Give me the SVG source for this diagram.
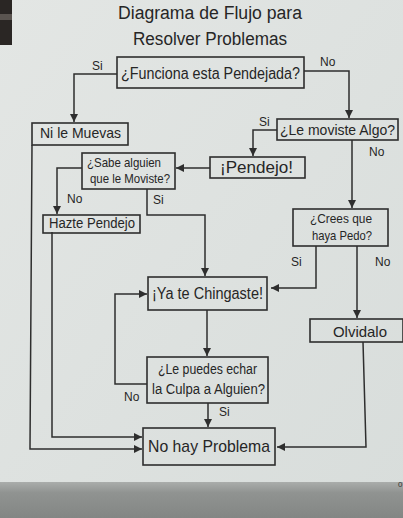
<svg xmlns="http://www.w3.org/2000/svg" width="403" height="518" viewBox="0 0 403 518">
<defs>
<linearGradient id="paper" x1="0" y1="0" x2="1" y2="1">
<stop offset="0" stop-color="#e3e6e4"/>
<stop offset="1" stop-color="#d8dddb"/>
</linearGradient>
<linearGradient id="floor" x1="0" y1="0" x2="0" y2="1">
<stop offset="0" stop-color="#aaadab"/>
<stop offset="0.3" stop-color="#909391"/>
<stop offset="1" stop-color="#838684"/>
</linearGradient>
<marker id="ah" markerWidth="8" markerHeight="8" refX="8" refY="4" orient="auto" markerUnits="userSpaceOnUse">
<path d="M0,0 L8,4 L0,8 z" fill="#2e2e2e"/>
</marker>
<style>
.box{fill:none;stroke:#2e2e2e;stroke-width:1.6}
.ln{fill:none;stroke:#2e2e2e;stroke-width:1.5;marker-end:url(#ah)}
.t{font-family:"Liberation Sans",Arial,sans-serif;fill:#262626;text-anchor:middle}
.lab{font-family:"Liberation Sans",Arial,sans-serif;fill:#262626;font-size:12px}
</style>
</defs>
<rect x="0" y="0" width="403" height="518" fill="url(#paper)"/>
<path d="M0,0 H12 V45 H0 z" fill="#2a2624"/>
<path d="M0,14 H12 V20 H0 z" fill="#5a5450"/>
<rect x="0" y="482" width="403" height="36" fill="url(#floor)"/>
<text x="398" y="487" font-family="Liberation Sans,Arial,sans-serif" font-size="8" fill="#333">0</text>

<g id="title">
<text class="t" x="210" y="19" font-size="18" textLength="184" lengthAdjust="spacingAndGlyphs">Diagrama de Flujo para</text>
<text class="t" x="210" y="45" font-size="18" textLength="154" lengthAdjust="spacingAndGlyphs">Resolver Problemas</text>
</g>

<g id="connectors">
<polyline class="ln" points="117,74 74,74 74,122"/>
<polyline class="ln" points="304,71 349,71 349,118"/>
<polyline class="ln" points="277,130 253,130 253,156"/>
<polyline class="ln" points="352,140 352,208"/>
<polyline class="ln" points="210,168 176,168"/>
<polyline class="ln" points="82,168 57,168 57,214"/>
<polyline class="ln" points="147,189 147,215 205,215 205,276"/>
<polyline class="ln" points="316,246 316,288 271,288"/>
<polyline class="ln" points="357,246 357,318"/>
<polyline class="ln" points="207,310 207,356"/>
<polyline class="ln" points="147,384 115,384 115,294 147,294"/>
<polyline class="ln" points="208,403 208,427"/>
<polyline class="ln" points="52,232 52,437 142,437"/>
<polyline class="ln" points="32,145 30,449 142,449"/>
<polyline class="ln" points="363,342 366,447 277,447"/>
<text class="lab" x="92" y="70">Si</text>
<text class="lab" x="320" y="66">No</text>
<text class="lab" x="259" y="126">Si</text>
<text class="lab" x="369" y="156">No</text>
<text class="lab" x="67" y="203">No</text>
<text class="lab" x="153" y="204">Si</text>
<text class="lab" x="291" y="266">Si</text>
<text class="lab" x="375" y="266">No</text>
<text class="lab" x="124" y="401">No</text>
<text class="lab" x="219" y="416">Si</text>
</g>

<g id="n-funciona">
<rect class="box" x="117" y="57" width="187" height="31"/>
<text class="t" x="210.5" y="79" font-size="16" textLength="179" lengthAdjust="spacingAndGlyphs">¿Funciona esta Pendejada?</text>
</g>
<g id="n-nilemuevas">
<rect class="box" x="32" y="123" width="96" height="22"/>
<text class="t" x="80.5" y="138" font-size="15" textLength="81" lengthAdjust="spacingAndGlyphs">Ni le Muevas</text>
</g>
<g id="n-lemoviste">
<rect class="box" x="277" y="119" width="121" height="21"/>
<text class="t" x="337.5" y="135" font-size="15" textLength="115" lengthAdjust="spacingAndGlyphs">¿Le moviste Algo?</text>
</g>
<g id="n-pendejo">
<rect class="box" x="210" y="157" width="95" height="21"/>
<text class="t" x="256.5" y="173" font-size="16" textLength="73" lengthAdjust="spacingAndGlyphs">¡Pendejo!</text>
</g>
<g id="n-sabe">
<rect class="box" x="82" y="153" width="93" height="36"/>
<text class="t" x="124" y="167" font-size="13" textLength="74" lengthAdjust="spacingAndGlyphs">¿Sabe alguien</text>
<text class="t" x="130" y="183" font-size="13" textLength="80" lengthAdjust="spacingAndGlyphs">que le Moviste?</text>
</g>
<g id="n-hazte">
<rect class="box" x="43" y="215" width="97" height="18"/>
<text class="t" x="92" y="228" font-size="14" textLength="86" lengthAdjust="spacingAndGlyphs">Hazte Pendejo</text>
</g>
<g id="n-crees">
<rect class="box" x="293" y="209" width="95" height="37"/>
<text class="t" x="341" y="223" font-size="13" textLength="62" lengthAdjust="spacingAndGlyphs">¿Crees que</text>
<text class="t" x="342" y="240" font-size="13" textLength="60" lengthAdjust="spacingAndGlyphs">haya Pedo?</text>
</g>
<g id="n-yate">
<rect class="box" x="148" y="277" width="119" height="33"/>
<text class="t" x="207.5" y="299" font-size="16" textLength="111" lengthAdjust="spacingAndGlyphs">¡Ya te Chingaste!</text>
</g>
<g id="n-olvidalo">
<rect class="box" x="310" y="319" width="93" height="23"/>
<text class="t" x="360" y="337" font-size="15" textLength="54" lengthAdjust="spacingAndGlyphs">Olvidalo</text>
</g>
<g id="n-lepuedes">
<rect class="box" x="147" y="357" width="121" height="46"/>
<text class="t" x="207.5" y="374" font-size="14" textLength="99" lengthAdjust="spacingAndGlyphs">¿Le puedes echar</text>
<text class="t" x="208.5" y="394" font-size="14" textLength="113" lengthAdjust="spacingAndGlyphs">la Culpa a Alguien?</text>
</g>
<g id="n-nohay">
<rect class="box" x="143" y="428" width="132" height="37"/>
<text class="t" x="209" y="452" font-size="17" textLength="122" lengthAdjust="spacingAndGlyphs">No hay Problema</text>
</g>
</svg>
